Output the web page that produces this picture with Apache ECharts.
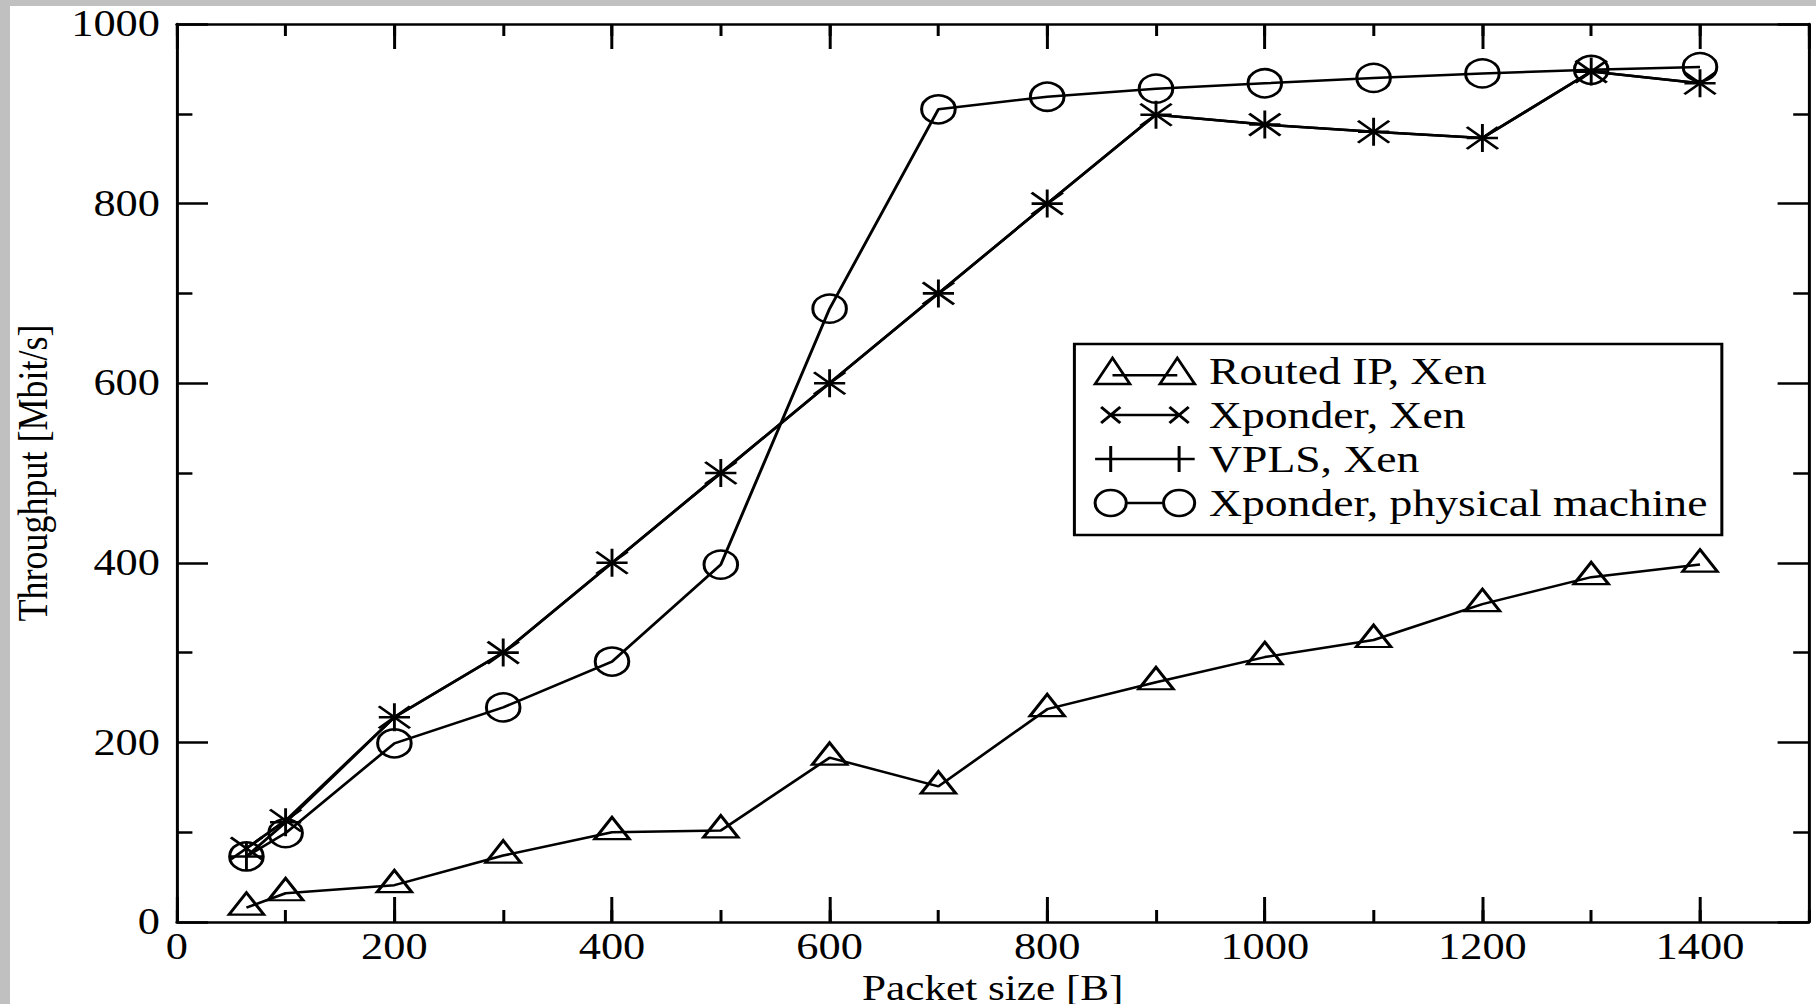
<!DOCTYPE html>
<html>
<head>
<meta charset="utf-8">
<title>Throughput vs packet size</title>
<script src="https://cdn.jsdelivr.net/npm/echarts@6.0.0/dist/echarts.min.js"></script>
<style>
    html,body{margin:0;padding:0;background:#c0c0c0;width:1816px;height:1004px;overflow:hidden;}
    /* the original figure is stretched horizontally, so the chart is drawn narrower and widened */
    #main{position:absolute;left:10px;top:6px;width:1505px;height:998px;background:#fff;transform:scaleX(1.2);transform-origin:0 0;}
</style>
</head>
<body>
<div id="main"></div>
<script>
// data
let packetSize=[64,100,200,300,400,500,600,700,800,900,1000,1100,1200,1300,1400];
let routedIpXen=[16,32,41,74,100,102,183,151,237,267,295,314,354,384,398];
let xponderXen=[82,113,228,300,400,500,600,700,800,899,888,880,873,947,934];
let vplsXen=[73,111,228,300,400,500,600,700,800,899,888,880,873,947,934];
let xponderPhysical=[73,99,199,239,290,398,683,905,919,928,934,940,945,949,952];
let seriesNames=["Routed IP, Xen","Xponder, Xen","VPLS, Xen","Xponder, physical machine"];

let font="'Liberation Serif','Times New Roman',serif";
let black='#000';

// legend icons: marker - line - marker, the extra moveTo keeps the box 90x26
let box='M0,0M90,26';
let legendIcons=[
    'path://'+box+'M0,26L14.5,0L29,26ZM54,26L68.5,0L83,26ZM14.5,17.3L68.5,17.3',
    'path://'+box+'M5,5L21,21M5,21L21,5M62,5L78,21M62,21L78,5M13,13L70,13',
    'path://'+box+'M0,13L83,13M13,0L13,26M70,0L70,26',
    'path://'+box+'M0,13A13,13 0 1,0 26,13A13,13 0 1,0 0,13M57,13A13,13 0 1,0 83,13A13,13 0 1,0 57,13M26,13L57,13'
];

function line(name,values,symbol,size,offset) {
    return {
        name:name,
        type:'line',
        xAxisIndex:0,
        yAxisIndex:0,
        data:packetSize.map((x,i)=>[x,values[i]]),
        symbol:symbol,
        symbolSize:size,
        symbolOffset:offset||[0,0],
        showAllSymbol:true,
        lineStyle:{color:black,width:2.5},
        itemStyle:{color:'rgba(0,0,0,0)',borderColor:black,borderWidth:2.5},
        emphasis:{disabled:true},
        silent:true,
        z:2
    }
}

function xAxis(position,interval,tickLen,main) {
    return {
        type:'value',
        position:position,
        min:0,
        max:1500,
        interval:interval,
        axisLine:{show:main,onZero:false,lineStyle:{color:black,width:2.5}},
        axisTick:{show:true,inside:true,length:tickLen,lineStyle:{color:black,width:2.5}},
        axisLabel:{
            show:main&&position==='bottom',
            showMaxLabel:false,
            formatter:v=>String(v),
            fontFamily:font,fontSize:37,color:black,margin:10,lineHeight:30
        },
        splitLine:{show:false},
        name:main&&position==='bottom'?'Packet size [B]':'',
        nameLocation:'middle',
        nameGap:35,
        nameTextStyle:{fontFamily:font,fontSize:36,color:black,lineHeight:28}
    }
}

function yAxis(position) {
    return {
        type:'value',
        position:position,
        min:0,
        max:1000,
        interval:200,
        axisLine:{show:true,onZero:false,lineStyle:{color:black,width:2.5}},
        axisTick:{show:true,inside:true,length:26,lineStyle:{color:black,width:2.5}},
        minorTick:{show:true,splitNumber:2,length:13,lineStyle:{color:black,width:2.5}},
        axisLabel:{
            show:position==='left',
            formatter:v=>String(v),
            fontFamily:font,fontSize:37,color:black,margin:14,lineHeight:26
        },
        splitLine:{show:false},
        minorSplitLine:{show:false},
        name:position==='left'?'Throughput [Mbit/s]':'',
        nameLocation:'middle',
        nameGap:106,
        nameTextStyle:{fontFamily:font,fontSize:36,color:black,lineHeight:28}
    }
}

let myChart=echarts.init(document.getElementById('main'),null,{renderer:'svg'});
let option={
    animation:false,
    backgroundColor:'#fff',
    grid:{left:139,right:6,top:18,bottom:82,containLabel:false,outerBoundsMode:'none'},
    xAxis:[
        xAxis('bottom',200,25,true),
        xAxis('bottom',100,12,false),
        xAxis('top',200,25,true),
        xAxis('top',100,12,false)
    ],
    yAxis:[yAxis('left'),yAxis('right')],
    legend:{
        orient:'vertical',
        left:887,
        top:338,
        padding:[8,12,13,16],
        itemWidth:90,
        itemHeight:26,
        itemGap:6,
        symbolKeepAspect:false,
        selectedMode:false,
        borderColor:black,
        borderWidth:2.5,
        backgroundColor:'#fff',
        itemStyle:{color:'rgba(0,0,0,0)',borderColor:black,borderWidth:2.5},
        textStyle:{fontFamily:font,fontSize:38,color:black,lineHeight:26},
        data:seriesNames.map((n,i)=>({name:n,icon:legendIcons[i]}))
    },
    series:[
        line(seriesNames[0],routedIpXen,'triangle',[29,22],[0,-4]),
        line(seriesNames[1],xponderXen,'path://M0,0L10,10M10,0L0,10',[26,22]),
        line(seriesNames[2],vplsXen,'path://M5,0L5,10M0,5L10,5',[26,28]),
        line(seriesNames[3],xponderPhysical,'circle',[28,28])
    ]
};
myChart.setOption(option);
</script>
</body>
</html>
